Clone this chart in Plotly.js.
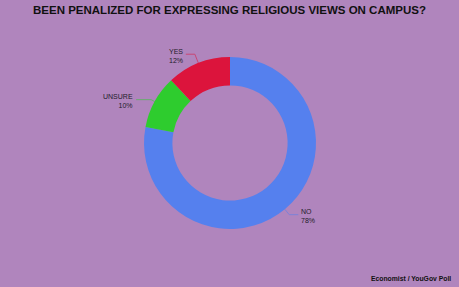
<!DOCTYPE html>
<html>
<head>
<meta charset="utf-8">
<script src="https://cdn.plot.ly/plotly-2.35.2.min.js"></script>
<style>html,body{margin:0;padding:0;background:#B085BD;}#chart{width:459px;height:287px;}</style>
</head>
<body>
<div id="chart"></div>
<script>
// slice order as drawn clockwise from 12 o'clock
const labels = ["NO", "UNSURE", "YES"];
const values = [78, 10, 12];
const colors = ["#5580EE", "#2ECC2E", "#DC143C"];
const titleText = "BEEN PENALIZED FOR EXPRESSING RELIGIOUS VIEWS ON CAMPUS?";
const sourceText = "Economist / YouGov Poll";

const W = 459, H = 287;
const CX = 230, CY = 143, R = 86;
const FONT = "Liberation Sans, Arial, sans-serif";

const trace = {
  type: "pie",
  labels: labels,
  values: values,
  hole: 0.67,
  sort: false,
  direction: "clockwise",
  rotation: 0,
  marker: {colors: colors, line: {width: 0}},
  textinfo: "none",
  hoverinfo: "none",
  domain: {x: [(CX - R) / W, (CX + R) / W], y: [1 - (CY + R) / H, 1 - (CY - R) / H]},
  showlegend: false
};

// leader lines + labels derived from slice mid-angles (clockwise from 12 o'clock)
const total = values.reduce((a, b) => a + b, 0);
const shapes = [], annotations = [];
const radialLen = [7, 4, 9.5];
const horizLen = [9, 15, 9];
let cum = 0;
values.forEach((v, i) => {
  const mid = (cum + v / 2) / total * 2 * Math.PI;
  cum += v;
  const dx = Math.sin(mid), dy = -Math.cos(mid);
  const x0 = CX + R * dx, y0 = CY + R * dy;
  const x1 = x0 + radialLen[i] * dx, y1 = y0 + radialLen[i] * dy;
  const side = dx < 0 ? -1 : 1;
  const x2 = x1 + side * horizLen[i], y2 = y1;
  const px = x => x / W, py = y => 1 - y / H;
  shapes.push({
    type: "path", xref: "paper", yref: "paper",
    path: `M ${px(x0)} ${py(y0)} L ${px(x1)} ${py(y1)} L ${px(x2)} ${py(y2)}`,
    line: {color: colors[i], width: 1}, opacity: 0.55
  });
  const pct = Math.round(v / total * 100) + "%";
  annotations.push({
    text: labels[i] + "<br>" + pct,
    xref: "paper", yref: "paper",
    x: px(x2 + side * 1), y: py(y2 + 1.5),
    xanchor: side < 0 ? "right" : "left", yanchor: "middle",
    align: labels[i] === "YES" ? "center" : (side < 0 ? "right" : "left"),
    showarrow: false,
    font: {family: FONT, size: 7, color: "#231c2b"}
  });
});

annotations.push({
  text: "<b>" + sourceText + "</b>",
  xref: "paper", yref: "paper", x: 453 / W, y: 0.028,
  xanchor: "right", yanchor: "middle", showarrow: false,
  font: {family: FONT, size: 6.8, color: "#111"}
});

const layout = {
  width: W, height: H,
  margin: {l: 0, r: 0, t: 0, b: 0},
  paper_bgcolor: "#B085BD",
  plot_bgcolor: "#B085BD",
  title: {
    text: "<b>" + titleText + "</b>",
    font: {family: FONT, size: 11.5, color: "#111"},
    x: 0.5, xanchor: "center", y: 0.965, yanchor: "middle"
  },
  shapes: shapes,
  annotations: annotations,
  showlegend: false
};

Plotly.newPlot("chart", [trace], layout, {staticPlot: true, displayModeBar: false});
</script>
</body>
</html>
